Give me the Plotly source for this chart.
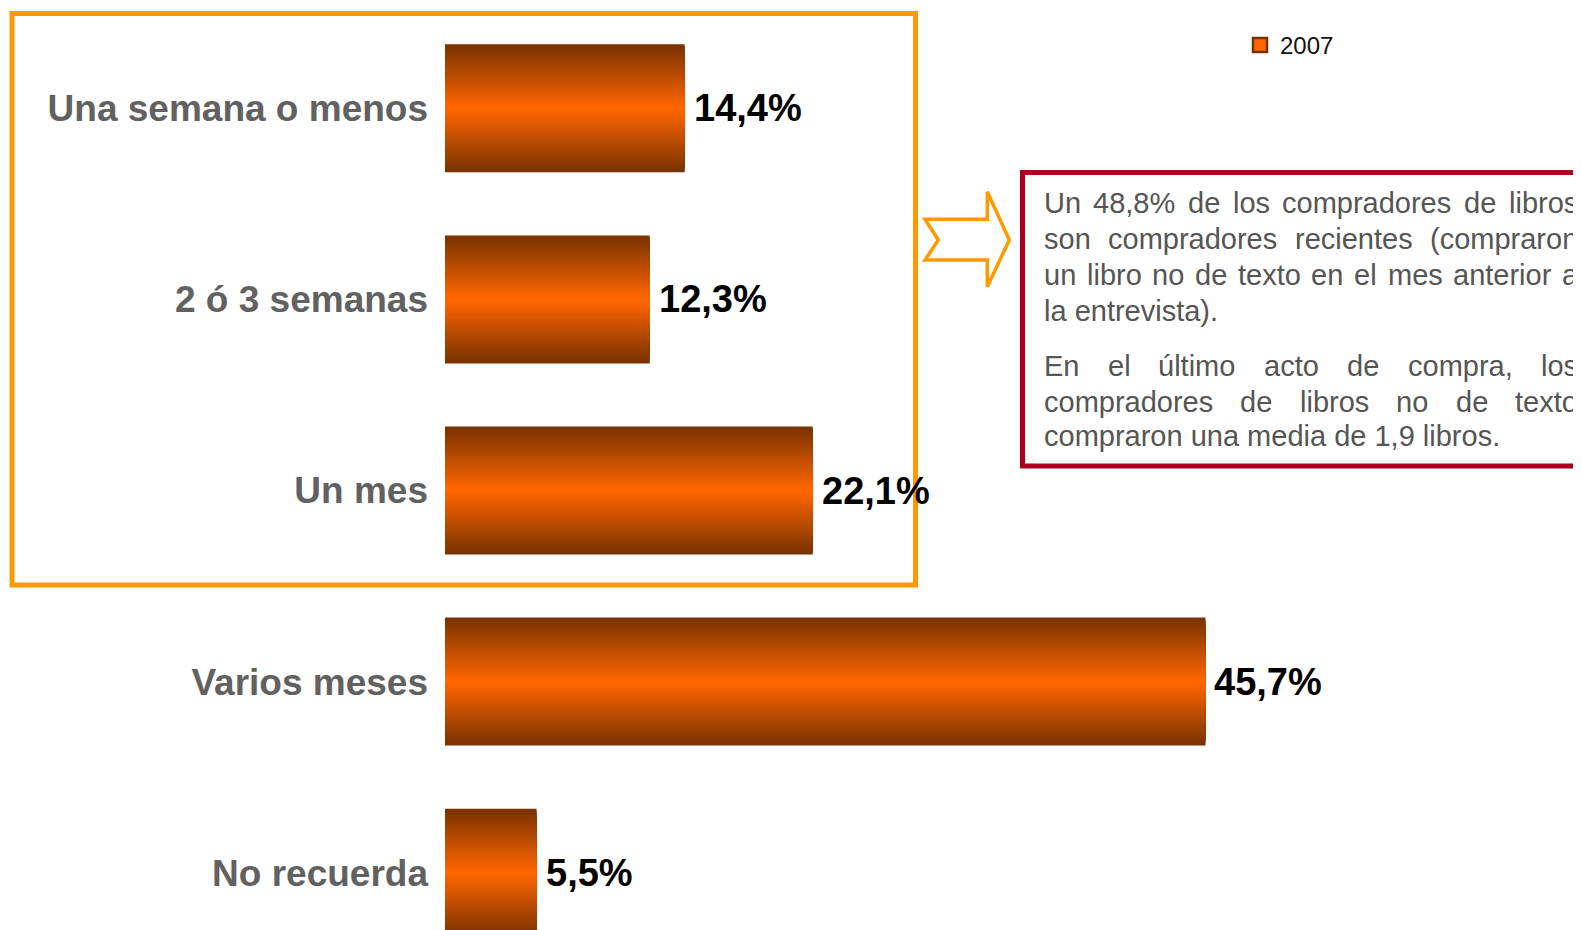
import plotly.graph_objects as go

# ---------------- data ----------------
categories = ["Una semana o menos", "2 ó 3 semanas", "Un mes", "Varios meses", "No recuerda"]
values_2007 = [14.4, 12.3, 22.1, 45.7, 5.5]
series_name = "2007"

note_paragraphs = [
    ["Un 48,8% de los compradores de libros",
     "son compradores recientes (compraron",
     "un libro no de texto en el mes anterior a",
     "la entrevista)."],
    ["En el último acto de compra, los",
     "compradores de libros no de texto",
     "compraron una media de 1,9 libros."],
]

# ---------------- layout constants ----------------
W, H = 1581, 930
OFF = 8                  # page offset of the figure (body margin)
ML = 445 - OFF           # left margin = bar baseline pixel
PX_PER_PCT = 16.64
FONT = "Liberation Sans, Arial, sans-serif"


def xp(px):
    """page pixel x -> paper x"""
    return (px - OFF - ML) / (W - ML)


def yp(py):
    """page pixel y -> paper y"""
    return 1 - (py - OFF) / H


fig = go.Figure()

# gradient bars: stacked overlay layers (dark edges -> orange center)
N = 30
dark = (122, 50, 0)
orange = (255, 102, 0)
full_w = 0.67
y_idx = list(range(len(categories)))
for k in range(N):
    t = k / (N - 1)
    c = tuple(round(dark[i] + (orange[i] - dark[i]) * t) for i in range(3))
    fig.add_trace(go.Bar(
        x=values_2007, y=y_idx, orientation="h",
        width=full_w * (1 - k / N),
        marker=dict(color="rgb(%d,%d,%d)" % c, line=dict(width=0)),
        name=series_name, legendgroup=series_name,
        showlegend=False,
        hovertemplate="%{x:.1f}%<extra>" + series_name + "</extra>",
    ))

# legend entry (square swatch, orange with dark brown edge like the bars)
fig.add_trace(go.Scatter(
    x=[None], y=[None], mode="markers", name=series_name,
    legendgroup=series_name, showlegend=True, hoverinfo="skip",
    marker=dict(symbol="square", size=14, color="rgb(255,102,0)",
                line=dict(color="rgb(122,50,0)", width=2.5)),
))

annotations = []
# value labels
for i, v in enumerate(values_2007):
    annotations.append(dict(
        x=v, y=i, xref="x", yref="y", xanchor="left", yanchor="middle",
        xshift=9, showarrow=False, borderpad=0, borderwidth=0,
        text=("%.1f" % v).replace(".", ",") + "%",
        font=dict(family=FONT, size=38, color="#000000", weight="bold"),
    ))

# justified note text (word placement using Arial/Liberation metrics)
CW = {' ': 278, '(': 333, ')': 333, ',': 278, '.': 278, '%': 889, 'E': 667, 'U': 722,
      'a': 556, 'b': 556, 'c': 500, 'd': 556, 'e': 556, 'f': 278, 'g': 556, 'h': 556,
      'i': 222, 'j': 222, 'k': 500, 'l': 222, 'm': 833, 'n': 556, 'o': 556, 'p': 556,
      'q': 556, 'r': 333, 's': 500, 't': 278, 'u': 556, 'v': 500, 'w': 722, 'x': 500,
      'y': 500, 'z': 500, 'ú': 556}
for d in "0123456789":
    CW[d] = 556

FS_NOTE = 29
TXT_L, TXT_R = 1043.8, 1578


def wwidth(w):
    return sum(CW.get(ch, 556) for ch in w) * FS_NOTE / 1000.0


line_y = [[203, 239, 275, 311], [365.5, 401.5, 436.5]]
for p, para in enumerate(note_paragraphs):
    for j, line in enumerate(para):
        yc = line_y[p][j]
        last = (j == len(para) - 1)
        words = line.split(" ")
        if last or len(words) == 1:
            annotations.append(dict(
                x=xp(TXT_L), y=yp(yc), xref="paper", yref="paper",
                xanchor="left", yanchor="middle", showarrow=False,
                borderpad=0, borderwidth=0, text=line,
                font=dict(family=FONT, size=FS_NOTE, color="#555555")))
        else:
            widths = [wwidth(w) for w in words]
            gap = (TXT_R - TXT_L - sum(widths)) / (len(words) - 1)
            x = TXT_L
            for w, ww in zip(words, widths):
                annotations.append(dict(
                    x=xp(x), y=yp(yc), xref="paper", yref="paper",
                    xanchor="left", yanchor="middle", showarrow=False,
                    borderpad=0, borderwidth=0, text=w,
                    font=dict(family=FONT, size=FS_NOTE, color="#555555")))
                x += ww + gap

shapes = []
# orange frame around the first three bars
shapes.append(dict(type="rect", xref="paper", yref="paper",
                   x0=xp(12), x1=xp(915.5), y0=yp(13.5), y1=yp(585),
                   line=dict(color="#FF9900", width=5), fillcolor="rgba(0,0,0,0)"))
# red note box
shapes.append(dict(type="rect", xref="paper", yref="paper",
                   x0=xp(1022.5), x1=xp(1610), y0=yp(172.5), y1=yp(466),
                   line=dict(color="#A8001E", width=5), fillcolor="rgba(0,0,0,0)"))
# notched arrow
arrow_pts = [(925, 219.3), (987.3, 219.3), (987.3, 191.7), (1009.3, 240),
             (987.3, 286.7), (987.3, 260), (925, 260), (938.3, 240)]
path = "M" + " L".join("%.5f,%.5f" % (xp(a), yp(b)) for a, b in arrow_pts) + " Z"
shapes.append(dict(type="path", xref="paper", yref="paper", path=path,
                   line=dict(color="#FF9900", width=3.5), fillcolor="rgba(0,0,0,0)"))

# y range: bar centres at page pixels 108.3 + 191.1*i
c0 = 108.3 - OFF
step = 191.1
y_top = (0 - c0) / step
y_bot = (H - c0) / step

fig.update_layout(
    width=W, height=H,
    margin=dict(l=ML, r=0, t=0, b=0, pad=0),
    paper_bgcolor="white", plot_bgcolor="white",
    barmode="overlay",
    separators=",.",
    font=dict(family=FONT),
    showlegend=True,
    legend=dict(x=xp(1240), y=yp(45.5), xanchor="left", yanchor="middle",
                bgcolor="rgba(0,0,0,0)", borderwidth=0, itemwidth=30,
                font=dict(family=FONT, size=24, color="#111111")),
    xaxis=dict(range=[0, (W - ML) / PX_PER_PCT], visible=False, fixedrange=True),
    yaxis=dict(range=[y_bot, y_top], tickmode="array", tickvals=y_idx,
               ticktext=categories, showgrid=False, zeroline=False, showline=False,
               ticks="", ticklabelstandoff=16,
               tickfont=dict(family=FONT, size=37, color="#616161", weight="bold")),
    annotations=annotations,
    shapes=shapes,
)

fig.write_html("out.html")
